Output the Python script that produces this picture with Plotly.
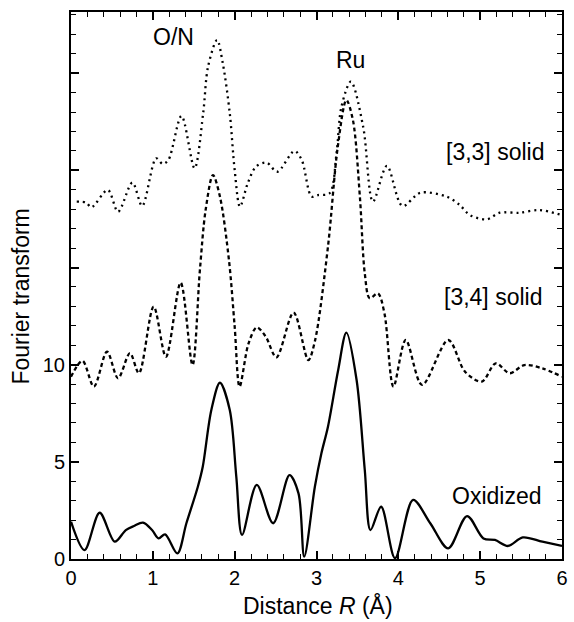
import plotly.graph_objects as go

# ---- data ----
ox_x = [0.0, 0.165, 0.35, 0.535, 0.67, 0.77, 0.88, 0.99, 1.07, 1.15, 1.30, 1.41, 1.55, 1.61, 1.715, 1.82,
        1.94, 2.02, 2.09, 2.27, 2.47, 2.67, 2.78, 2.85, 2.98, 3.06, 3.14, 3.265, 3.365, 3.49, 3.59, 3.66,
        3.79, 3.96, 4.18, 4.39, 4.61, 4.84, 5.04, 5.18, 5.34, 5.52, 5.76, 6.0]
ox_y = [1.92, 0.46, 2.38, 0.89, 1.49, 1.70, 1.87, 1.49, 1.06, 1.27, 0.29, 1.84, 3.72, 4.75, 7.67, 9.07,
        7.67, 4.24, 1.24, 3.81, 1.84, 4.32, 3.38, 0.12, 3.72, 5.44, 6.81, 9.73, 11.65, 9.21, 4.58, 1.49,
        2.69, 0.04, 3.04, 1.84, 0.55, 2.21, 1.06, 0.98, 0.67, 1.11, 0.89, 0.67]

s34_x = [0.0, 0.14, 0.28, 0.44, 0.575, 0.72, 0.83, 1.01, 1.16, 1.34, 1.485, 1.575, 1.645, 1.735, 1.82,
         1.93, 2.0, 2.06, 2.17, 2.27, 2.38, 2.51, 2.72, 2.90, 2.98, 3.14, 3.26, 3.365, 3.445, 3.53, 3.59,
         3.65, 3.75, 3.83, 3.94, 4.09, 4.29, 4.61, 4.815, 5.02, 5.19, 5.36, 5.54, 5.76, 6.0]
s34_y = [9.38, 10.2, 8.87, 10.67, 9.30, 10.59, 9.56, 12.99, 10.41, 14.22, 9.98, 14.87, 17.96, 19.76, 18.65,
         15.39, 11.96, 8.87, 11.10, 11.92, 11.44, 10.38, 12.68, 10.24, 11.2, 16.07, 21.22, 23.62, 22.59, 18.65, 14.70,
         13.42, 13.67, 12.65, 8.87, 11.27, 8.96, 11.27, 9.64, 9.13, 10.07, 9.56, 9.98, 9.81, 9.38]

s33_x = [0.07, 0.185, 0.25, 0.45, 0.575, 0.75, 0.87, 1.04, 1.12, 1.19, 1.35, 1.51, 1.615, 1.675, 1.785,
         1.855, 1.94, 2.0, 2.065, 2.16, 2.26, 2.39, 2.52, 2.73, 2.82, 2.94, 3.02, 3.16, 3.245, 3.305, 3.42,
         3.57, 3.69, 3.86, 4.05, 4.27, 4.59, 4.75, 4.875, 5.08, 5.24, 5.48, 5.72, 6.0]
s33_y = [18.39, 18.34, 18.10, 18.99, 17.87, 19.37, 18.17, 20.62, 20.33, 20.53, 22.80, 20.11, 22.94, 25.34, 26.71,
         25.51, 22.94, 20.02, 18.13, 19.34, 20.19, 20.40, 19.93, 21.0, 20.53, 18.65, 18.73, 18.82, 20.88, 23.28, 24.57,
         22.25, 18.39, 20.23, 18.17, 18.85, 18.65, 18.22, 17.70, 17.48, 17.82, 17.82, 17.96, 17.70]

labels = ["O/N", "Ru", "[3,3] solid", "[3,4] solid", "Oxidized"]
label_x = [1.25, 3.42, 5.80, 5.785, 5.77]
label_y = [26.84, 25.68, 20.95, 13.48, 3.24]
label_anchor = ["center", "center", "right", "right", "right"]

x_ticks = [0, 1, 2, 3, 4, 5, 6]
y_ticks = [0, 5, 10, 15, 20, 25]
y_ticktext = ["0", "5", "10", "", "", ""]

FONT = "Liberation Sans, Arial, Helvetica, sans-serif"

fig = go.Figure()
fig.add_trace(go.Scatter(x=s33_x, y=s33_y, mode="lines",
                         line=dict(color="black", width=2.3, dash="2px,4px", shape="spline", smoothing=0.9)))
fig.add_trace(go.Scatter(x=s34_x, y=s34_y, mode="lines",
                         line=dict(color="black", width=2.3, dash="4px,3px", shape="spline", smoothing=0.9)))
fig.add_trace(go.Scatter(x=ox_x, y=ox_y, mode="lines",
                         line=dict(color="black", width=2.3, shape="spline", smoothing=0.9)))

for t, x, y, a in zip(labels, label_x, label_y, label_anchor):
    fig.add_annotation(x=x, y=y, text=t, showarrow=False, xanchor=a, yanchor="middle",
                       font=dict(family=FONT, size=23, color="black"))

# axis titles as annotations for exact placement
fig.add_annotation(xref="paper", yref="paper", x=-0.1026, y=0.479, text="Fourier transform",
                   textangle=-90, showarrow=False, xanchor="center", yanchor="middle",
                   font=dict(family=FONT, size=23, color="black"))
fig.add_annotation(xref="paper", yref="paper", x=0.504, y=-0.085, text="Distance <i>R</i> (Å)",
                   showarrow=False, xanchor="center", yanchor="middle",
                   font=dict(family=FONT, size=23, color="black"))

fig.update_xaxes(range=[0, 6], tickvals=x_ticks, ticks="inside", ticklen=8, tickwidth=1.5,
                 tickcolor="black", showline=True, linecolor="black", linewidth=2, mirror="allticks",
                 showgrid=False, zeroline=False,
                 minor=dict(dtick=0.2, ticks="inside", ticklen=5, tickwidth=1.3, tickcolor="black", showgrid=False),
                 tickfont=dict(family=FONT, size=20, color="black"))
fig.update_yaxes(range=[0, 28.15], tickvals=y_ticks, ticktext=y_ticktext, ticks="inside", ticklen=8,
                 tickwidth=1.5, tickcolor="black", showline=True, linecolor="black", linewidth=2,
                 mirror="allticks", showgrid=False, zeroline=False,
                 minor=dict(dtick=1, ticks="inside", ticklen=5, tickwidth=1.3, tickcolor="black", showgrid=False),
                 tickfont=dict(family=FONT, size=20, color="black"))

fig.update_layout(width=574, height=622, margin=dict(l=71, r=6, t=12, b=63),
                  paper_bgcolor="white", plot_bgcolor="white", showlegend=False,
                  font=dict(family=FONT, color="black"))

fig.write_html("out.html", config={"displayModeBar": False},
               post_script="document.body.style.margin='0';document.body.style.overflow='hidden';")
